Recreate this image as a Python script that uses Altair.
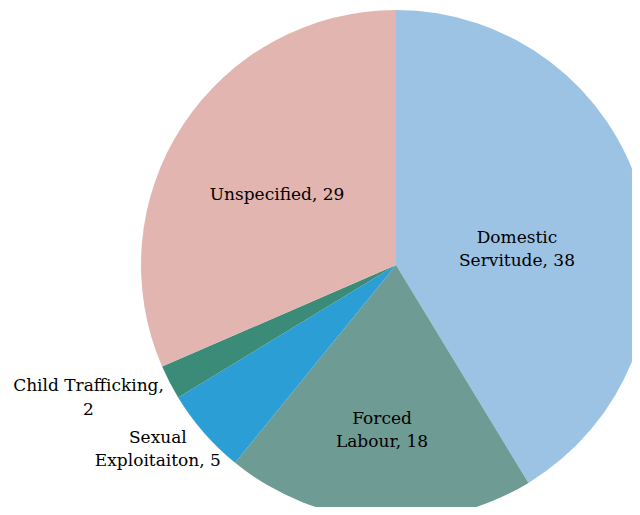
import math
import altair as alt
import pandas as pd

categories = ["Domestic Servitude", "Forced Labour", "Sexual Exploitaiton", "Child Trafficking", "Unspecified"]
values = [38, 18, 5, 2, 29]
label_lines = [
    "Domestic\nServitude, 38",
    "Forced\nLabour, 18",
    "Sexual\nExploitaiton, 5",
    "Child Trafficking,\n2",
    "Unspecified, 29",
]
colors = ["#9dc3e4", "#6e9b93", "#2b9ed6", "#3a8b77", "#e2b5b0"]

df = pd.DataFrame({
    "category": categories,
    "value": values,
    "order": list(range(len(values))),
    "label": label_lines,
})

total = sum(values)
theta_scale = alt.Scale(domain=[0, total], range=[0, 2 * math.pi])
color_scale = alt.Scale(domain=categories, range=colors)
CX, CY = 388, 257

pie = alt.Chart(df).mark_arc(outerRadius=255, stroke=None).encode(
    theta=alt.Theta("value:Q", stack=True, scale=theta_scale),
    color=alt.Color("category:N", scale=color_scale, legend=None),
    order=alt.Order("order:Q"),
    x=alt.value(CX),
    y=alt.value(CY),
)

# label placement (radius, theta offset, vertical shift) per category
placement = {
    "Domestic Servitude": (122, 0.143, -11.5),
    "Forced Labour": (166, 0.016, -11.5),
    "Sexual Exploitaiton": (301, 0.059, -11.5),
    "Child Trafficking": (335, 0.07, -11.5),
    "Unspecified": (138, -0.049, 0),
}

base = alt.Chart(df).transform_window(
    cum="sum(value)", sort=[{"field": "order"}]
).transform_calculate(mid="datum.cum - datum.value / 2")

layers = [pie]
for cat, (r, off, shift) in placement.items():
    layers.append(
        base.transform_filter(alt.datum.category == cat).mark_text(
            radius=r, thetaOffset=off, dy=shift, font="DejaVu Serif", fontSize=17,
            lineBreak="\n", lineHeight=23.5, align="center", baseline="middle",
            color="#000000",
        ).encode(
            theta=alt.Theta("mid:Q", scale=theta_scale),
            text="label:N",
            x=alt.value(CX),
            y=alt.value(CY),
        )
    )

chart = alt.layer(*layers).properties(
    width=624, height=499, autosize=alt.AutoSizeParams(type="none"), padding=0
).configure_view(stroke=None)

chart.save("out.html", embed_options={"renderer": "svg", "actions": False})
